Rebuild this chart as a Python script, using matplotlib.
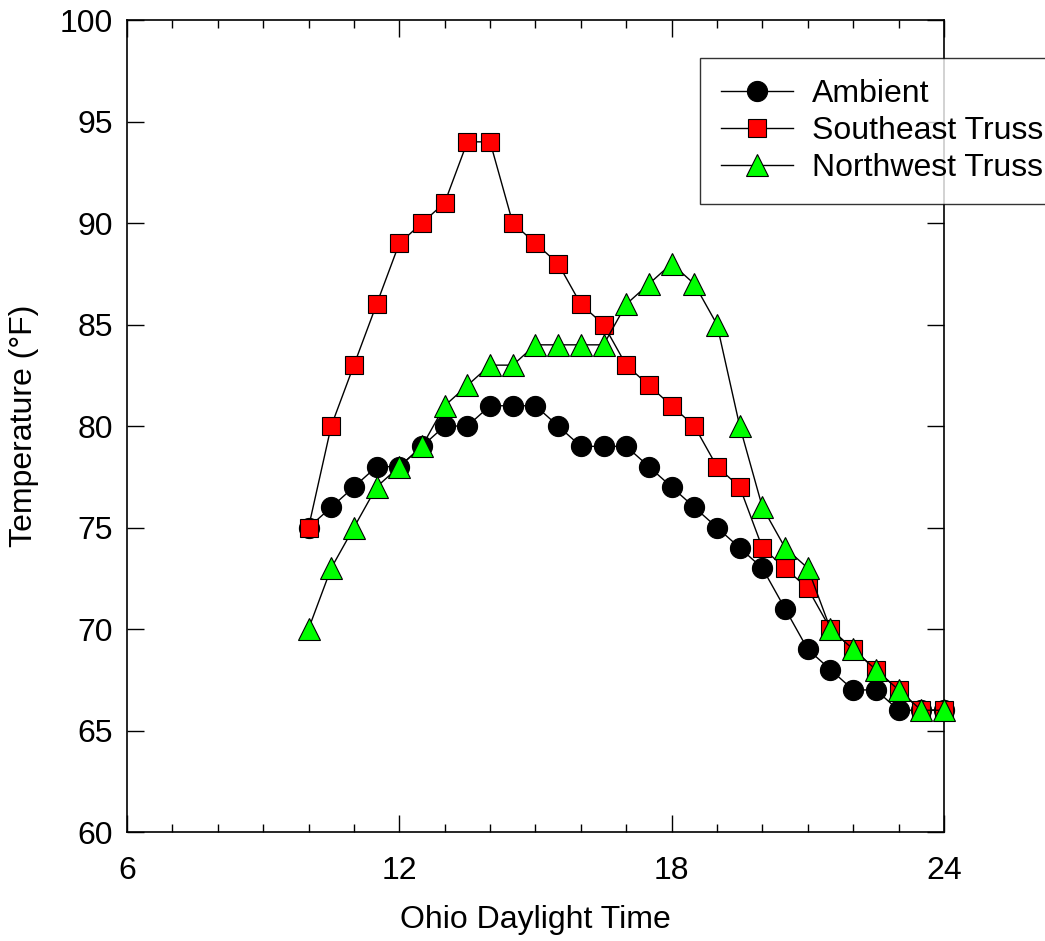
#!/usr/bin/env python3
"""
Truss temperatures vs. ambient over an Ohio summer day
"""

import matplotlib
matplotlib.use("Agg")
import matplotlib.pyplot as plt
from matplotlib.ticker import MultipleLocator

plt.rcParams['font.family'] = ['Liberation Sans', 'DejaVu Sans']

# Half-hour readings, 10:00 to 24:00
hours = [10, 10.5, 11, 11.5, 12, 12.5, 13, 13.5, 14, 14.5, 15, 15.5, 16, 16.5,
         17, 17.5, 18, 18.5, 19, 19.5, 20, 20.5, 21, 21.5, 22, 22.5, 23, 23.5, 24]

ambient = [75, 76, 77, 78, 78, 79, 80, 80, 81, 81, 81, 80, 79, 79,
           79, 78, 77, 76, 75, 74, 73, 71, 69, 68, 67, 67, 66, 66, 66]

southeast = [75, 80, 83, 86, 89, 90, 91, 94, 94, 90, 89, 88, 86, 85,
             83, 82, 81, 80, 78, 77, 74, 73, 72, 70, 69, 68, 67, 66, 66]

northwest = [70, 73, 75, 77, 78, 79, 81, 82, 83, 83, 84, 84, 84, 84,
             86, 87, 88, 87, 85, 80, 76, 74, 73, 70, 69, 68, 67, 66, 66]


def create_plot():
    fig = plt.figure(figsize=(10.45, 9.41), dpi=100)
    ax = fig.add_axes([0.1215, 0.1158, 0.7818, 0.8629])

    ax.plot(hours, ambient, color='black', lw=1, marker='o', ms=14.5,
            mfc='black', mec='black', mew=0.8, label='Ambient', zorder=3,
            clip_on=False)
    ax.plot(hours, southeast, color='black', lw=1, marker='s', ms=12.5,
            mfc='#ff0000', mec='black', mew=0.8, label='Southeast Truss', zorder=4,
            clip_on=False)
    ax.plot(hours, northwest, color='black', lw=1, marker='^', ms=15.5,
            mfc='#00ff00', mec='black', mew=0.8, label='Northwest Truss', zorder=5,
            clip_on=False)

    ax.set_xlim(6, 24)
    ax.set_ylim(60, 100)
    ax.xaxis.set_major_locator(MultipleLocator(6))
    ax.xaxis.set_minor_locator(MultipleLocator(1))
    ax.yaxis.set_major_locator(MultipleLocator(5))

    ax.tick_params(which='both', direction='in', top=True, right=True,
                   labelsize=23, width=1)
    ax.tick_params(which='major', length=12)
    ax.tick_params(which='minor', length=6)
    ax.tick_params(axis='y', pad=10)
    ax.tick_params(axis='x', pad=17)
    for sp in ax.spines.values():
        sp.set_linewidth(1.2)

    ax.set_xlabel('Ohio Daylight Time', fontsize=23, labelpad=14)
    ax.set_ylabel('Temperature (\u00b0F)', fontsize=23, labelpad=15)

    leg = fig.legend(loc='upper left', bbox_to_anchor=(700 / 1045, 1 - 58 / 941),
                     fontsize=23, frameon=True, fancybox=False, handlelength=2.25,
                     handletextpad=0.6, borderpad=0.65, labelspacing=0.23,
                     borderaxespad=0)
    leg.get_frame().set_edgecolor('black')
    leg.get_frame().set_linewidth(1)
    leg.set_zorder(10)

    fig.savefig("out.png", dpi=100)


def main():
    create_plot()


if __name__ == "__main__":
    main()
